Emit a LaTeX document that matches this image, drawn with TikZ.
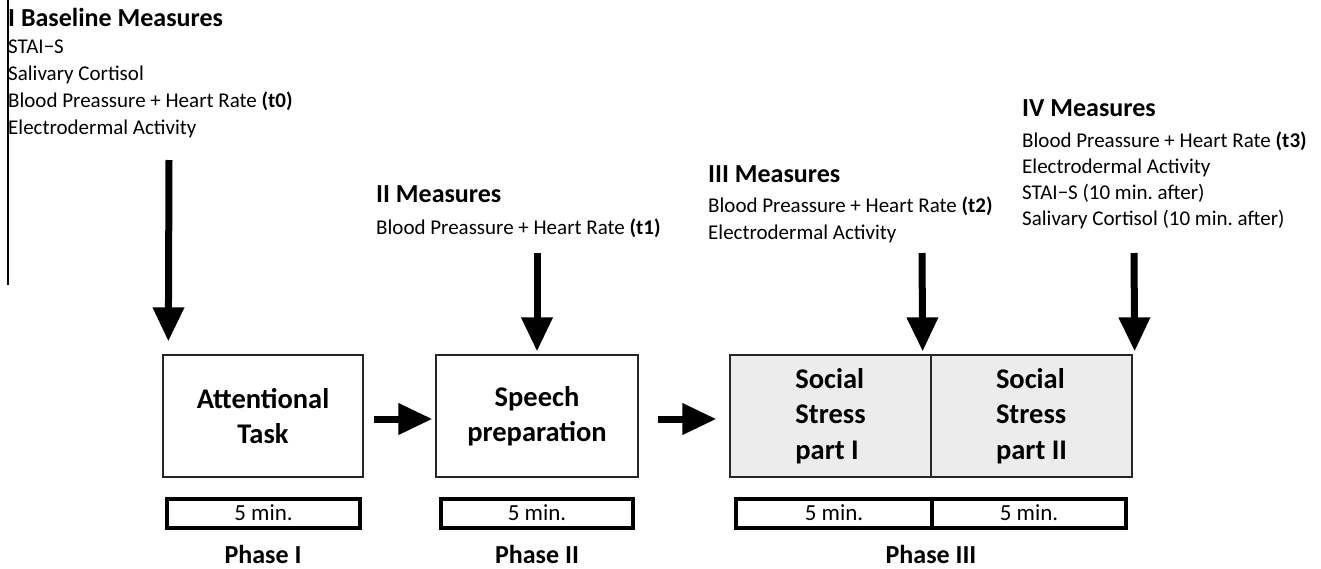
\documentclass[tikz,border=0pt]{standalone}
\usepackage{fontspec}
\setmainfont{Carlito}
\frenchspacing
\usetikzlibrary{arrows.meta,positioning}

\begin{document}
\begin{tikzpicture}[x=1pt,y=-1pt,
  head/.style={font=\fontsize{26}{30}\selectfont\bfseries,inner sep=0pt,anchor=base west},
  items/.style={font=\fontsize{21}{27}\selectfont,inner sep=0pt,anchor=base west,align=left},
  task/.style={draw=black!85,line width=1.3pt,minimum height=122pt,inner sep=0pt,
    font=\fontsize{28.5}{35.5}\selectfont\bfseries},
  timebox/.style={draw,line width=4pt,minimum height=29pt,inner sep=0pt,font=\fontsize{23}{26}\selectfont},
  phase/.style={font=\fontsize{26}{28}\selectfont\bfseries,inner sep=0pt,anchor=base},
  bigarrow/.style={line width=7pt,-{Triangle[width=30pt,length=34pt]}}]
\useasboundingbox (0,0) rectangle (1321,568);

% measures (lists are placed by the baseline of their last line)
\draw[line width=1.3pt] (8,0) -- (8,285);
\node[head] (meas1) at (8,26.5) {I Baseline Measures};
\node[items] (list1) at (8,134) {STAI−S\\Salivary Cortisol\\Blood Preassure + Heart Rate \textbf{(t0)}\\Electrodermal Activity};

\node[head] (meas2) at (376,202) {II Measures};
\node[items] (list2) at (376,234) {Blood Preassure + Heart Rate \textbf{(t1)}};

\node[head] (meas3) at (708,182) {III Measures};
\node[items] (list3) at (708,239) {Blood Preassure + Heart Rate \textbf{(t2)}\\Electrodermal Activity};

\node[head] (meas4) at (1022,116.5) {IV Measures};
\node[items,font=\fontsize{21}{25.7}\selectfont] (list4) at (1022,225) {Blood Preassure + Heart Rate \textbf{(t3)}\\Electrodermal Activity\\STAI−S (10 min. after)\\Salivary Cortisol (10 min. after)};

% tasks
\node[task,minimum width=200pt,align=center] (attn) at (263,416) {Attentional\\Task};
\node[task,minimum width=202pt,align=center] (speech) at (537,416) {Speech\\preparation};
\node[task,minimum width=201pt,align=left,fill=gray!15] (stress1) at (830.5,416) {Social\\Stress\\part I};
\node[task,minimum width=201pt,align=left,fill=gray!15] (stress2) at (1031.5,416) {Social\\Stress\\part II};

% durations
\node[timebox,minimum width=193pt] (min1) at (263.5,513) {5 min.};
\node[timebox,minimum width=192pt] (min2) at (537,513) {5 min.};
\node[timebox,minimum width=196pt] (min3) at (834,513) {5 min.};
\node[timebox,minimum width=194pt] (min4) at (1029,513) {5 min.};

\node[phase] (ph1) at (263,563) {Phase I};
\node[phase] (ph2) at (537,563) {Phase II};
\node[phase] (ph3) at (931,563) {Phase III};

% arrows
\coordinate (a0) at (169,160);
\coordinate (a1) at (537,253);
\coordinate (a2) at (922,253);
\coordinate (a3) at (1134,253);
\draw[bigarrow] (a0) -- ([xshift=6pt,yshift=13pt]attn.north west);
\draw[bigarrow] (a1) -- ([yshift=3pt]speech.north);
\draw[bigarrow] (a2) -- ([xshift=-9pt,yshift=3pt]stress1.north east);
\draw[bigarrow] (a3) -- ([xshift=2pt,yshift=3pt]stress2.north east);
\draw[bigarrow] ([xshift=10pt,yshift=-3pt]attn.east) -- ([xshift=-3pt,yshift=-3pt]speech.west);
\draw[bigarrow] ([xshift=19pt,yshift=-3pt]speech.east) -- ([xshift=-13pt,yshift=-3pt]stress1.west);
\end{tikzpicture}
\end{document}
